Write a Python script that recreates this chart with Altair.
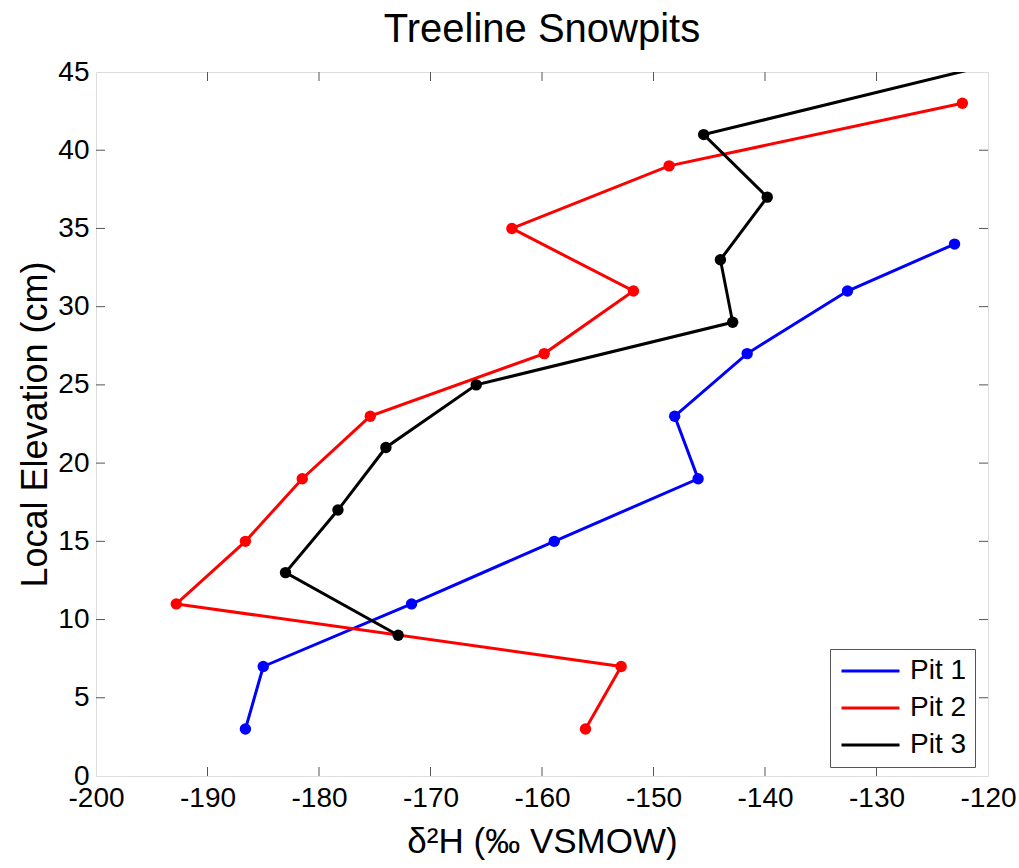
import altair as alt
import pandas as pd

# ---- data ----
pit1_elev = [3, 7, 11, 15, 19, 23, 27, 31, 34]
pit1_d2h = [-186.6, -185.0, -171.7, -158.9, -146.0, -148.1, -141.6, -132.6, -123.0]

pit2_elev = [3, 7, 11, 15, 19, 23, 27, 31, 35, 39, 43]
pit2_d2h = [-156.1, -152.9, -192.8, -186.6, -181.5, -175.4, -159.8, -151.8, -162.7, -148.6, -122.3]

pit3_elev = [9, 13, 17, 21, 25, 29, 33, 37, 41, 49]
pit3_d2h = [-172.9, -183.0, -178.3, -174.0, -165.9, -142.9, -144.0, -139.8, -145.5, -99.5]

series_names = ["Pit 1", "Pit 2", "Pit 3"]
series_colors = ["#0000ff", "#ff0000", "#000000"]

x_ticks = [-200, -190, -180, -170, -160, -150, -140, -130, -120]
y_ticks = [0, 5, 10, 15, 20, 25, 30, 35, 40, 45]

rows = []
for name, elev, vals in zip(series_names, [pit1_elev, pit2_elev, pit3_elev], [pit1_d2h, pit2_d2h, pit3_d2h]):
    for e, v in zip(elev, vals):
        rows.append({"pit": name, "elev": e, "d2h": v})
df = pd.DataFrame(rows)

W, H = 892, 704
FONT = "Liberation Sans"
BOX = "#555555"
TICK = 9

xscale = alt.Scale(domain=[x_ticks[0], x_ticks[-1]], nice=False, zero=False)
yscale = alt.Scale(domain=[y_ticks[0], y_ticks[-1]], nice=False, zero=False)
cscale = alt.Scale(domain=series_names, range=series_colors)

x_axis = alt.Axis(values=x_ticks, title="δ²H (‰ VSMOW)", labelExpr="datum.value + ''",
                  labelFlush=False, labelOverlap=False, ticks=False, domain=False, grid=False,
                  labelFontSize=28, labelFont=FONT, labelColor="black", labelPadding=8,
                  titleFontSize=35, titleFont=FONT, titleFontWeight="normal",
                  titleColor="black", titlePadding=12)
y_axis = alt.Axis(values=y_ticks, title="Local Elevation (cm)", labelExpr="datum.value + ''",
                  labelFlush=False, labelOverlap=False, ticks=False, domain=False, grid=False,
                  labelFontSize=28, labelFont=FONT, labelColor="black", labelPadding=7,
                  titleFontSize=36, titleFont=FONT, titleFontWeight="normal",
                  titleColor="black", titlePadding=3)

base = alt.Chart(df)

lines = base.mark_line(strokeWidth=3, clip=True).encode(
    x=alt.X("d2h:Q", scale=xscale, axis=x_axis),
    y=alt.Y("elev:Q", scale=yscale, axis=y_axis),
    color=alt.Color("pit:N", scale=cscale, legend=alt.Legend(
        title=None, orient="none", legendX=734, legendY=577, direction="vertical",
        symbolType="M-1.05,0H4.75", symbolSize=400, symbolStrokeWidth=3,
        labelFontSize=28, labelFont=FONT, labelColor="black", labelOffset=44,
        rowPadding=9, padding=8, strokeColor=BOX, fillColor="white", cornerRadius=0)),
    order=alt.Order("elev:Q"),
)

points = base.mark_circle(size=130, opacity=1, clip=True).encode(
    x=alt.X("d2h:Q", scale=xscale, axis=x_axis),
    y=alt.Y("elev:Q", scale=yscale, axis=y_axis),
    color=alt.Color("pit:N", scale=cscale, legend=None),
)

xt = pd.DataFrame({"t": x_ticks[1:-1]})
yt = pd.DataFrame({"t": y_ticks[1:-1]})

xt_bottom = alt.Chart(xt).mark_rule(color=BOX, strokeWidth=1).encode(
    x=alt.X("t:Q", scale=xscale, axis=x_axis), y=alt.value(H), y2=alt.value(H - TICK))
xt_top = alt.Chart(xt).mark_rule(color=BOX, strokeWidth=1).encode(
    x=alt.X("t:Q", scale=xscale, axis=x_axis), y=alt.value(0), y2=alt.value(TICK))
yt_left = alt.Chart(yt).mark_rule(color=BOX, strokeWidth=1).encode(
    y=alt.Y("t:Q", scale=yscale, axis=y_axis), x=alt.value(0), x2=alt.value(TICK))
yt_right = alt.Chart(yt).mark_rule(color=BOX, strokeWidth=1).encode(
    y=alt.Y("t:Q", scale=yscale, axis=y_axis), x=alt.value(W), x2=alt.value(W - TICK))

chart = alt.layer(xt_bottom, xt_top, yt_left, yt_right, lines, points).properties(
    width=W, height=H,
    title=alt.TitleParams("Treeline Snowpits", fontSize=40, font=FONT, fontWeight="normal",
                          color="black", anchor="middle", offset=8),
    autosize=alt.AutoSizeParams(type="none"),
    padding={"left": 96, "top": 72, "right": 31, "bottom": 92},
).configure_view(stroke=BOX, strokeWidth=1).configure(background="white")

chart.save("out.html", embed_options={"renderer": "svg", "actions": False})
